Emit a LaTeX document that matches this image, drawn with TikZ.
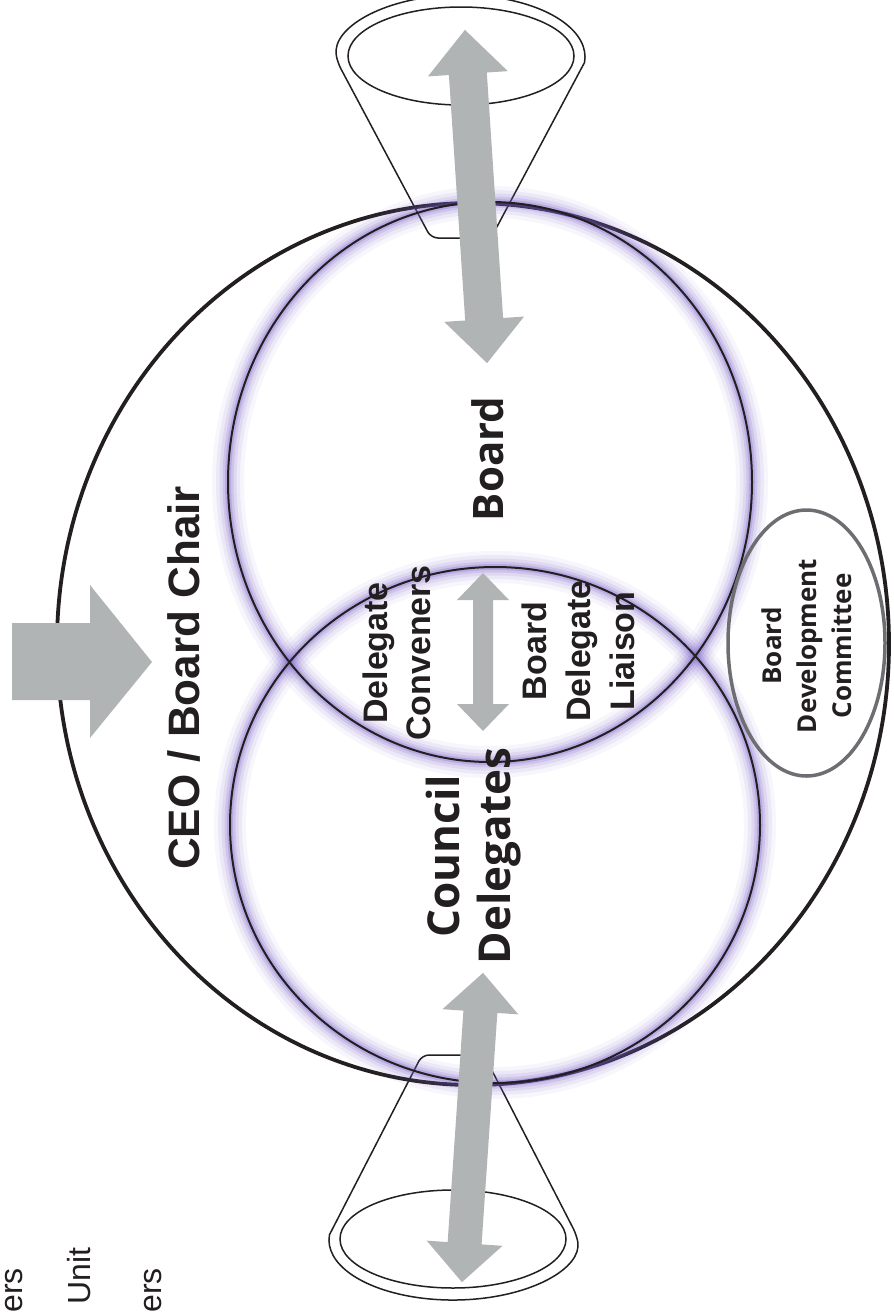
\documentclass[tikz,border=0pt]{standalone}
\usepackage{fontspec}
\newfontfamily\hv{Liberation Sans}
\newfontfamily\os{Open Sans}
\definecolor{ink}{RGB}{35,31,32}
\definecolor{agray}{RGB}{177,180,180}
\definecolor{glowc}{RGB}{115,90,200}
\definecolor{egray}{RGB}{109,110,113}
\tikzset{
  outerring/.style={draw=ink, line width=3.8pt},
  ring/.style={draw=ink, line width=2pt},
  conel/.style={draw=ink, line width=1.5pt},
  gfill/.style={fill=agray},
  vtext/.style={rotate=90, inner sep=0pt, text=ink},
}
\newcommand\glowellipse[4]{%
  \foreach \w/\o in {32/0.05, 24/0.08, 17/0.11, 11/0.16, 6/0.24}{%
    \draw[draw=glowc, line width=\w pt, draw opacity=\o] (#1,#2) ellipse [x radius=#3, y radius=#4];}%
}
\newcommand\dblblock[7]{%
  \begin{scope}[shift={(#1,#2)}, rotate=#3]
    \fill[gfill] (-#4,0) -- ({-#4+#5},#6) -- ({-#4+#5},#7) -- ({#4-#5},#7) -- ({#4-#5},#6) -- (#4,0)
      -- ({#4-#5},-#6) -- ({#4-#5},-#7) -- ({-#4+#5},-#7) -- ({-#4+#5},-#6) -- cycle;
  \end{scope}}
\begin{document}
\begin{tikzpicture}[x=1pt, y=1pt]
\useasboundingbox (0,0) rectangle (894,-1312);
\fill[white] (0,0) rectangle (894,-1312);

% cones
\draw[conel] (337.5,-62.4) arc[start angle=185, end angle=-5, x radius=124, y radius=62]
  [rounded corners=7pt] -- (491,-238) -- (431,-238) -- cycle;
\draw[conel] (461,-56) ellipse [x radius=113, y radius=49];
\draw[conel] (576.5,-1234.8) arc[start angle=5, end angle=-185, x radius=124, y radius=60]
  [rounded corners=7pt] -- (422,-1055) -- (484,-1055) -- cycle;
\draw[conel] (453,-1239) ellipse [x radius=113, y radius=49];

% outer ellipse
\draw[outerring] (473,-644) ellipse [x radius=416, y radius=441];

% glow + circles
\glowellipse{490}{-482}{262}{280}
\glowellipse{495}{-825}{265}{258}
\draw[ring] (490,-482) ellipse [x radius=262, y radius=280];
\draw[ring] (495,-825) ellipse [x radius=265, y radius=258];

% committee ellipse
\draw[draw=egray, line width=3.5pt] (806.5,-643) ellipse [x radius=78.5, y radius=133];

% arrows
\dblblock{476}{-196.5}{93.8}{167}{44}{40}{19}
\dblblock{483}{-652}{90}{79}{27}{26}{10}
\dblblock{472.5}{-1127.5}{86.1}{155}{39}{38}{17}
\fill[gfill] (12,-623) -- (90,-623) -- (90,-585) -- (152,-662) -- (90,-738) -- (90,-700) -- (12,-700) -- cycle;

% texts
\node[vtext, anchor=base, font=\hv\bfseries\fontsize{44}{50}\selectfont] (ceo) at (199,-678) {CEO / Board Chair};
\node[vtext, anchor=base, font=\os\bfseries\fontsize{42}{48}\selectfont] (board) at (503,-459) {Board};
\node[vtext, align=center, font=\os\bfseries\fontsize{44}{51}\selectfont] (council) at (474,-856) {Council\\Delegates};
\node[vtext, align=center, font=\hv\bfseries\fontsize{34}{43}\selectfont] (conv) at (397,-653) {Delegate\\Conveners};
\node[vtext, align=center, font=\hv\bfseries\fontsize{34}{44}\selectfont] (liaison) at (578,-651) {Board\\Delegate\\Liaison};
\node[vtext, align=center, font=\os\bfseries\fontsize{26}{35}\selectfont] (bdc) at (807,-646) {Board\\Development\\Committee};

\node[vtext, anchor=base east, font=\hv\fontsize{32}{38}\selectfont] (t1) at (23,-1268) {ers};
\node[vtext, anchor=base east, font=\hv\fontsize{32}{38}\selectfont] (t2) at (90,-1247) {Unit};
\node[vtext, anchor=base east, font=\hv\fontsize{32}{38}\selectfont] (t3) at (161,-1268) {ers};
\end{tikzpicture}
\end{document}
